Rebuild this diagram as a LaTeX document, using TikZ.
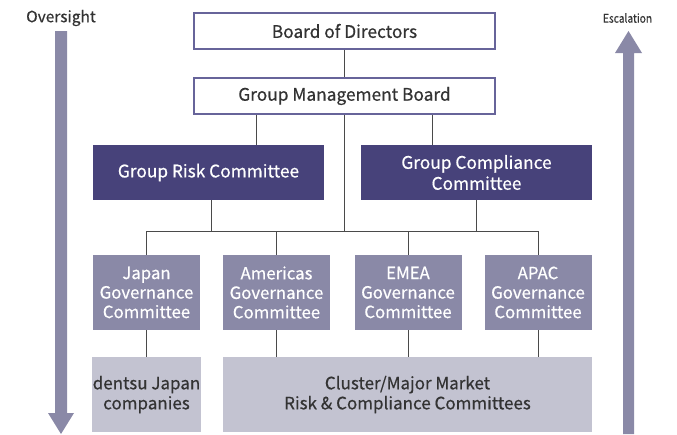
\documentclass[tikz,border=0pt]{standalone}
\usepackage{fontspec}
\setmainfont{Noto Sans CJK JP}[FakeBold=0.5,BoldFont={Noto Sans CJK JP}]
\usetikzlibrary{positioning,calc}
\definecolor{navy}{HTML}{47427A}
\definecolor{slate}{HTML}{8A89A7}
\definecolor{mist}{HTML}{C3C3D1}
\definecolor{rim}{HTML}{67649A}
\definecolor{ink}{HTML}{333333}
\definecolor{wire}{HTML}{4A4A4A}
\begin{document}
\begin{tikzpicture}[x=1pt,y=-1pt,
  topbox/.style={draw=rim,line width=1.6pt,fill=white,minimum width=301pt,minimum height=36pt,text=ink,font=\fontsize{17.3}{20}\selectfont},
  groupbox/.style={fill=navy,minimum width=231pt,minimum height=55pt,text=white,align=center,font=\fontsize{17.3}{21}\selectfont},
  regbox/.style={fill=slate,minimum width=107pt,minimum height=75pt,text=white,align=center,inner sep=1pt,font=\fontsize{16.8}{19.5}\selectfont},
  basebox/.style={fill=mist,minimum height=75pt,text=ink,align=center,inner sep=1pt,font=\fontsize{17}{20}\selectfont},
  lbl/.style={text=ink,inner sep=0pt},
  link/.style={draw=wire,line width=0.8pt},
  flow/.style={fill=slate}
]
  \useasboundingbox (0,0) rectangle (677,434);
  % top of the chain
  \node[topbox] (bod) at (344.5,31) {Board of Directors};
  \node[topbox] (gmb) at (344.5,96) {Group Management Board};
  \node[groupbox] (grc) at (208.5,172.5) {Group Risk Committee};
  \node[groupbox] (gcc) at (476.5,172.5) {Group Compliance\\Committee};
  % regional committees
  \node[regbox] (jgc) at (146.5,292.5) {Japan\\Governance\\Committee};
  \node[regbox] (amgc) at (276.5,292.5) {Americas\\Governance\\Committee};
  \node[regbox] (emgc) at (408,292.5) {EMEA\\Governance\\Committee};
  \node[regbox] (apgc) at (538,292.5) {APAC\\Governance\\Committee};
  \node[basebox,minimum width=107pt] (jco) at (146.5,394.5) {dentsu Japan\\companies};
  \node[basebox,minimum width=369pt] (cmm) at (407.5,394.5) {Cluster/Major Market\\Risk \& Compliance Committees};
  \coordinate (bar) at (344,231);
  % side labels and arrows
  \node[lbl,font=\fontsize{15.5}{18}\selectfont] (ovs) at (61,18) {Oversight};
  \node[lbl,font=\fontsize{12}{14}\selectfont] (esc) at (627.5,18) {\scalebox{0.85}[1]{Escalation}};
  \fill[flow] (55,31) -- (67,31) -- (67,413) -- (74,413) -- (61,434) -- (48,413) -- (55,413) -- cycle;
  \fill[flow] (623,434) -- (623,53) -- (615,53) -- (628.5,31) -- (642,53) -- (634,53) -- (634,434) -- cycle;
  % connectors
  \draw[link] (bod) -- (gmb);
  \draw[link] ([xshift=-88.5pt]gmb.south) -- ([xshift=-88.5pt]gmb.south |- grc.north);
  \draw[link] ([xshift=87.5pt]gmb.south) -- ([xshift=87.5pt]gmb.south |- gcc.north);
  \draw[link] (gmb.south) -- (gmb.south |- bar);
  \draw[link] ([xshift=3pt]grc.south) -- ([xshift=3pt]grc.south |- bar);
  \draw[link] (gcc.south) -- (gcc.south |- bar);
  \draw[link] (jgc.north) -- (jgc.north |- bar) -- (apgc.north |- bar) -- (apgc.north);
  \draw[link] (amgc.north) -- (amgc.north |- bar);
  \draw[link] (emgc.north) -- (emgc.north |- bar);
  \draw[link] (jgc) -- (jco);
  \draw[link] (amgc.south) -- (amgc.south |- cmm.north);
  \draw[link] (emgc.south) -- (emgc.south |- cmm.north);
  \draw[link] (apgc.south) -- (apgc.south |- cmm.north);
\end{tikzpicture}
\end{document}
